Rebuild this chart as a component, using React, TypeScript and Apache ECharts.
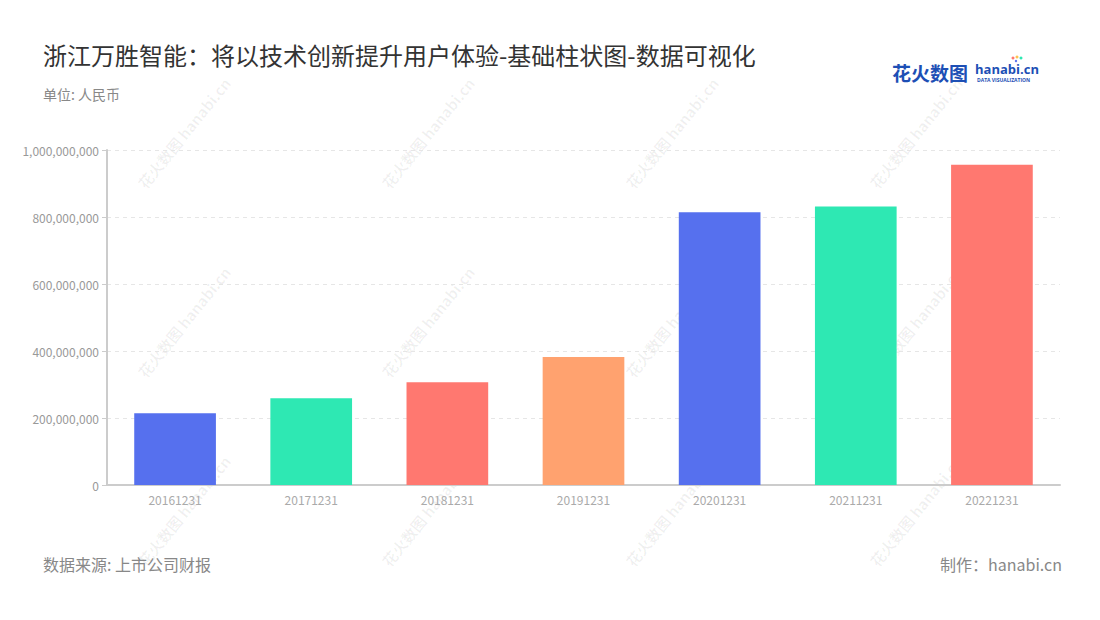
import React, { useEffect, useRef } from "react";
import * as echarts from "echarts";

const categories = ["20161231", "20171231", "20181231", "20191231", "20201231", "20211231", "20221231"];
const values = [214000000, 259000000, 307000000, 382000000, 814000000, 831000000, 956000000];
const palette = ["#5670EE", "#2EE8B3", "#FF7870", "#FFA26F"];
const yTicks = { min: 0, max: 1000000000, interval: 200000000 };

const titleText = "浙江万胜智能：将以技术创新提升用户体验-基础柱状图-数据可视化";
const unitText = "单位: 人民币";
const sourceText = "数据来源: 上市公司财报";
const makerText = "制作：hanabi.cn";

const wmX = [184, 428, 672, 916];
const wmY = [133, 322, 511];

function fmt(v: number) {
  return String(v).replace(/\B(?=(\d{3})+(?!\d))/g, ",");
}

export default function App() {
  const ref = useRef<HTMLDivElement>(null);
  useEffect(() => {
    document.body.style.margin = "0";
    const chart = echarts.init(ref.current!, null, { renderer: "svg" });
    const font = "'Noto Sans CJK SC', 'Noto Sans', sans-serif";
    const watermarks: any[] = [];
    wmX.forEach((x) =>
      wmY.forEach((y) => {
        watermarks.push({
          type: "group",
          x,
          y,
          rotation: 0.89,
          silent: true,
          z: 100,
          children: [
            {
              type: "text",
              x: 0,
              y: 0,
              style: {
                text: "花火数图 hanabi.cn",
                fill: "rgba(0,0,0,0.06)",
                font: `bold 15px ${font}`,
                align: "center",
                verticalAlign: "middle",
              },
            },
            {
              type: "text",
              x: 34,
              y: 11,
              style: {
                text: "DATA VISUALIZATION",
                fill: "rgba(0,0,0,0.05)",
                font: `4px ${font}`,
                align: "center",
                verticalAlign: "middle",
              },
            },
          ],
        });
      })
    );
    chart.setOption({
      animation: false,
      backgroundColor: "#fff",
      textStyle: { fontFamily: font },
      title: [
        {
          text: titleText,
          left: 38,
          top: 37,
          textStyle: { fontSize: 24, fontWeight: "normal", color: "#333", fontFamily: font },
        },
        {
          text: unitText,
          left: 38,
          top: 82,
          textStyle: { fontSize: 14, fontWeight: "normal", color: "#888", fontFamily: font },
        },
      ],
      grid: { left: 107, right: 40, top: 150, bottom: 135 },
      xAxis: {
        type: "category",
        data: categories,
        axisLine: { lineStyle: { color: "#ccc", width: 2 } },
        axisTick: { alignWithLabel: true, lineStyle: { color: "#999" } },
        axisLabel: { color: "#aaa", fontSize: 12, margin: 8 },
      },
      yAxis: {
        type: "value",
        min: yTicks.min,
        max: yTicks.max,
        interval: yTicks.interval,
        axisLine: { show: true, lineStyle: { color: "#ccc", width: 2 } },
        axisTick: { show: true, lineStyle: { color: "#ccc" } },
        axisLabel: { color: "#999", fontSize: 12, formatter: (v: number) => fmt(v) },
        splitLine: { lineStyle: { color: "#e6e6e6", type: [4, 4] } },
      },
      series: [
        {
          type: "bar",
          barWidth: "60%",
          data: values.map((v, i) => ({ value: v, itemStyle: { color: palette[i % palette.length] } })),
        },
      ],
      graphic: [
        ...watermarks,
        {
          type: "text",
          left: 43,
          top: 556,
          style: { text: sourceText, fill: "#888", font: `16px ${font}` },
        },
        {
          type: "text",
          right: 38,
          top: 556,
          style: { text: makerText, fill: "#888", font: `16px ${font}` },
        },
        {
          type: "text",
          x: 892,
          y: 72,
          style: { text: "花火数图", fill: "#1D4FB5", font: `bold 19px ${font}`, verticalAlign: "middle" },
        },
        {
          type: "text",
          x: 975,
          y: 69,
          style: { text: "hanabi.cn", fill: "#1D4FB5", font: `bold 13px 'Open Sans', sans-serif`, verticalAlign: "middle" },
        },
        {
          type: "text",
          x: 977,
          y: 80,
          style: { text: "DATA VISUALIZATION", fill: "#1D4FB5", font: `bold 5px 'Open Sans', sans-serif`, verticalAlign: "middle" },
        },
        { type: "circle", shape: { cx: 1013, cy: 58, r: 1.5 }, style: { fill: "#FF7870" } },
        { type: "circle", shape: { cx: 1017, cy: 57, r: 1.5 }, style: { fill: "#FFC24F" } },
        { type: "circle", shape: { cx: 1021, cy: 58, r: 1.5 }, style: { fill: "#2EE8B3" } },
        { type: "circle", shape: { cx: 1016, cy: 61, r: 1.2 }, style: { fill: "#5670EE" } },
      ],
    });
    return () => chart.dispose();
  }, []);
  return <div ref={ref} style={{ width: 1100, height: 620 }} />;
}
